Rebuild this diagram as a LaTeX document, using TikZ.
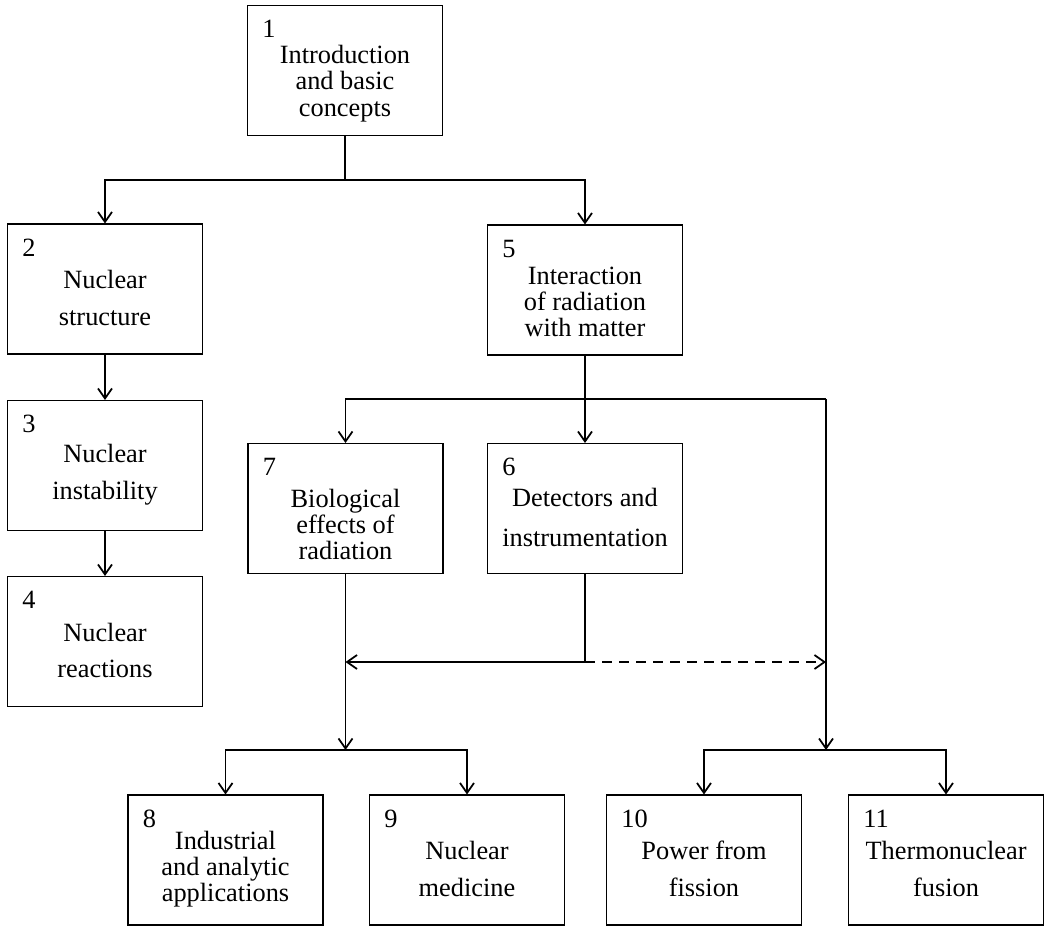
\documentclass[tikz,border=0pt]{standalone}
\usepackage{fontspec}
\setmainfont{Liberation Serif}
\usetikzlibrary{arrows.meta}

\tikzset{
    topic/.style={draw, line width=0.6pt, minimum width=3.9cm, minimum height=2.6cm},
    num/.style={anchor=north west, inner sep=0pt, xshift=0.3cm, yshift=-0.3cm, font=\fontsize{15}{15}\selectfont},
    say/.style={align=center, yshift=-0.18cm, font=\fontsize{15}{15}\selectfont},
    wire/.style={line width=1pt},
    flow/.style={line width=1pt, -{Straight Barb[length=2mm, width=2.8mm]}},
}

\begin{document}
\begin{tikzpicture}
    \useasboundingbox (0, 0) rectangle (20.88, -18.52);

    \node[topic, label={[num]north west:1}, label={[say, yshift=-0.08cm]center:Introduction\\and basic\\concepts}] (intro) at (6.9, -1.41) {};

    \node[topic, label={[num]north west:2}, label={[say]center:Nuclear\\[6pt]structure}] (struct) at (2.1, -5.78) {};
    \node[topic, label={[num]north west:3}, label={[say]center:Nuclear\\[6pt]instability}] (instab) at (2.1, -9.31) {};
    \node[topic, label={[num]north west:4}, label={[say]center:Nuclear\\[6pt]reactions}] (react) at (2.1, -12.83) {};

    \node[topic, label={[num]north west:5}, label={[say, yshift=-0.06cm]center:Interaction\\of radiation\\with matter}] (interact) at (11.7, -5.8) {};
    \node[topic, label={[num]north west:7}, label={[say, yshift=-0.14cm]center:Biological\\effects of\\radiation}] (bio) at (6.91, -10.17) {};
    \node[topic, label={[num]north west:6}, label={[say]center:Detectors and\\[8pt]instrumentation}] (detect) at (11.7, -10.17) {};

    \node[topic, label={[num]north west:8}, label={[say]center:Industrial\\and analytic\\applications}] (indus) at (4.51, -17.2) {};
    \node[topic, label={[num]north west:9}, label={[say]center:Nuclear\\[6pt]medicine}] (medic) at (9.34, -17.2) {};
    \node[topic, label={[num]north west:10}, label={[say]center:Power from\\[6pt]fission}] (fission) at (14.08, -17.2) {};
    \node[topic, label={[num]north west:11}, label={[say]center:Thermonuclear\\[6pt]fusion}] (fusion) at (18.92, -17.2) {};

    % branch points
    \coordinate (split1) at (6.9, -3.6);
    \coordinate (split2) at (11.7, -7.98);
    \coordinate (rail) at (16.52, -7.98);
    \coordinate (tap) at (11.7, -13.24);
    \coordinate (join) at (6.91, -13.24);
    \coordinate (joinr) at (16.52, -13.24);
    \coordinate (merge1) at (6.91, -15);
    \coordinate (merge2) at (16.52, -15);

    \draw[wire] (intro) -- (split1);
    \draw[flow] (split1) -| (struct.north);
    \draw[flow] (split1) -| (interact.north);
    \draw[flow] (struct) -- (instab);
    \draw[flow] (instab) -- (react);

    \draw[wire] (interact) -- (split2);
    \draw[flow] (split2) -| (bio.north);
    \draw[flow] (split2) -- (detect);
    \draw[wire] (split2) -- (rail);
    \draw[flow] (rail) -- (merge2);

    \draw[wire] (detect) -- (tap);
    \draw[flow] (tap) -- (join);
    \draw[flow, dash pattern=on 2mm off 1.4mm] (tap) -- (joinr);
    \draw[flow] (bio) -- (merge1);

    \draw[flow] (merge1) -| (indus.north);
    \draw[flow] (merge1) -| (medic.north);
    \draw[flow] (merge2) -| (fission.north);
    \draw[flow] (merge2) -| (fusion.north);
\end{tikzpicture}
\end{document}
